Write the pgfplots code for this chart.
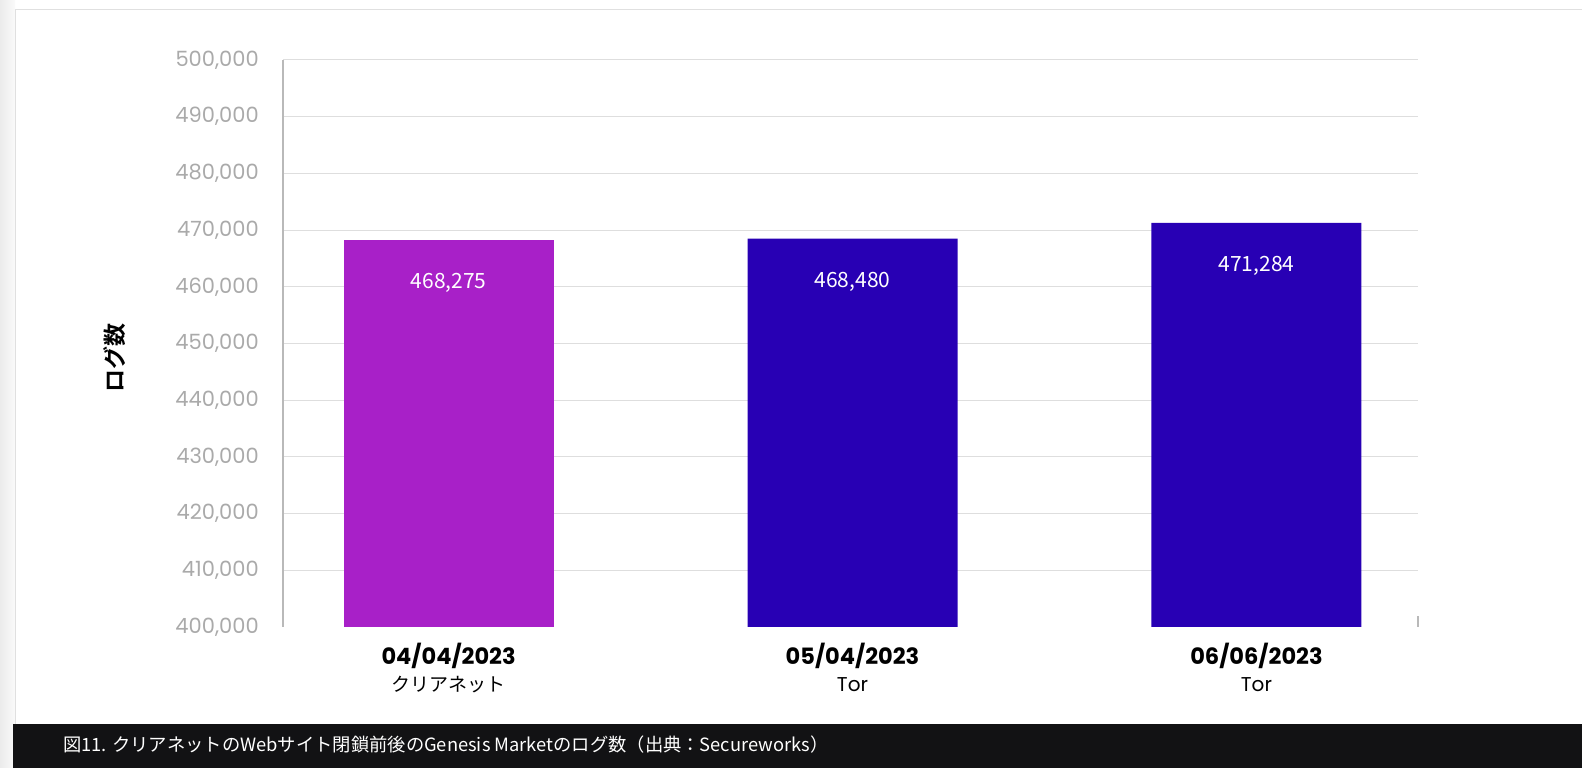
\documentclass[border=0pt]{standalone}
\usepackage{fontspec}
\usepackage{pgfplots}
\pgfplotsset{compat=1.18}
\setmainfont{Poppins}
\newfontfamily\cjk{Noto Sans CJK JP}
\newfontfamily\cjkb{Noto Sans CJK JP Bold}
\definecolor{barA}{RGB}{168,32,200}
\definecolor{barB}{RGB}{40,0,180}
\definecolor{gridc}{RGB}{222,222,222}
\definecolor{tickc}{RGB}{170,170,170}
\definecolor{axc}{RGB}{185,185,185}
\definecolor{capbg}{RGB}{18,18,20}
\begin{document}
\begin{tikzpicture}[x=1pt,y=1pt]
\useasboundingbox (0,0) rectangle (1582,768);
\fill[white] (0,0) rectangle (1582,768);
\fill[left color=black!8,right color=black!2] (0,0) rectangle (15,768);
\draw[black!12,line width=1pt] (15,0) -- (15,758) -- (1582,758);
\fill[capbg] (13,0) rectangle (1582,44);
\node[anchor=west,text=white,inner sep=0pt] at (63,23) {\cjk\fontsize{18.3}{22}\selectfont 図11. クリアネットのWebサイト閉鎖前後のGenesis Marketのログ数（出典：Secureworks）};
\begin{axis}[
  at={(283pt,141pt)}, anchor=south west,
  scale only axis, width=1135pt, height=567pt,
  xmin=-0.41, xmax=2.4, ymin=400000, ymax=500000,
  axis lines*=left,
  x axis line style={draw=none},
  y axis line style={draw=axc,line width=1.5pt},
  ytick={410000,420000,...,500000},
  extra y ticks={400000},
  extra y tick style={grid=none},
  scaled y ticks=false,
  yticklabel={\pgfmathprintnumber[1000 sep={,},fixed,assume math mode=true]{\tick}},
  ymajorgrids,
  grid style={draw=gridc,line width=1pt},
  major tick length=0pt,
  yticklabel style={text=tickc,font=\fontsize{21}{24}\selectfont,inner sep=0pt,xshift=-24pt},
  xtick={0,1,2},
  xticklabels={{\fontsize{22.5}{27}\selectfont\bfseries 04/04/2023\\\cjk\fontsize{19}{27}\selectfont クリアネット},
               {\fontsize{22.5}{27}\selectfont\bfseries 05/04/2023\\\fontsize{20}{27}\selectfont Tor},
               {\fontsize{22.5}{27}\selectfont\bfseries 06/06/2023\\\fontsize{20}{27}\selectfont Tor}},
  xticklabel style={align=center,anchor=north,inner sep=0pt,yshift=-16pt,text=black,font=\fontsize{20}{27}\selectfont},
  ylabel={\cjkb\fontsize{23}{26}\selectfont ログ数},
  ylabel style={at={(axis description cs:-0.148,0.474)},anchor=center},
  nodes near coords={\pgfmathprintnumber[1000 sep={,},fixed,assume math mode=true]{\pgfplotspointmeta}},
  nodes near coords style={anchor=center,yshift=-43pt,text=white,font=\cjk\fontsize{21}{24}\selectfont},
  clip=false,
]
\addplot[ybar,bar width=0.52,fill=barA,draw=none] coordinates {(0,468275)};
\addplot[ybar,bar width=0.52,fill=barB,draw=none] coordinates {(1,468480) (2,471284)};
\draw[axc,line width=1.5pt] (axis cs:2.4,400000) -- ++(0pt,11pt);
\end{axis}
\end{tikzpicture}
\end{document}
